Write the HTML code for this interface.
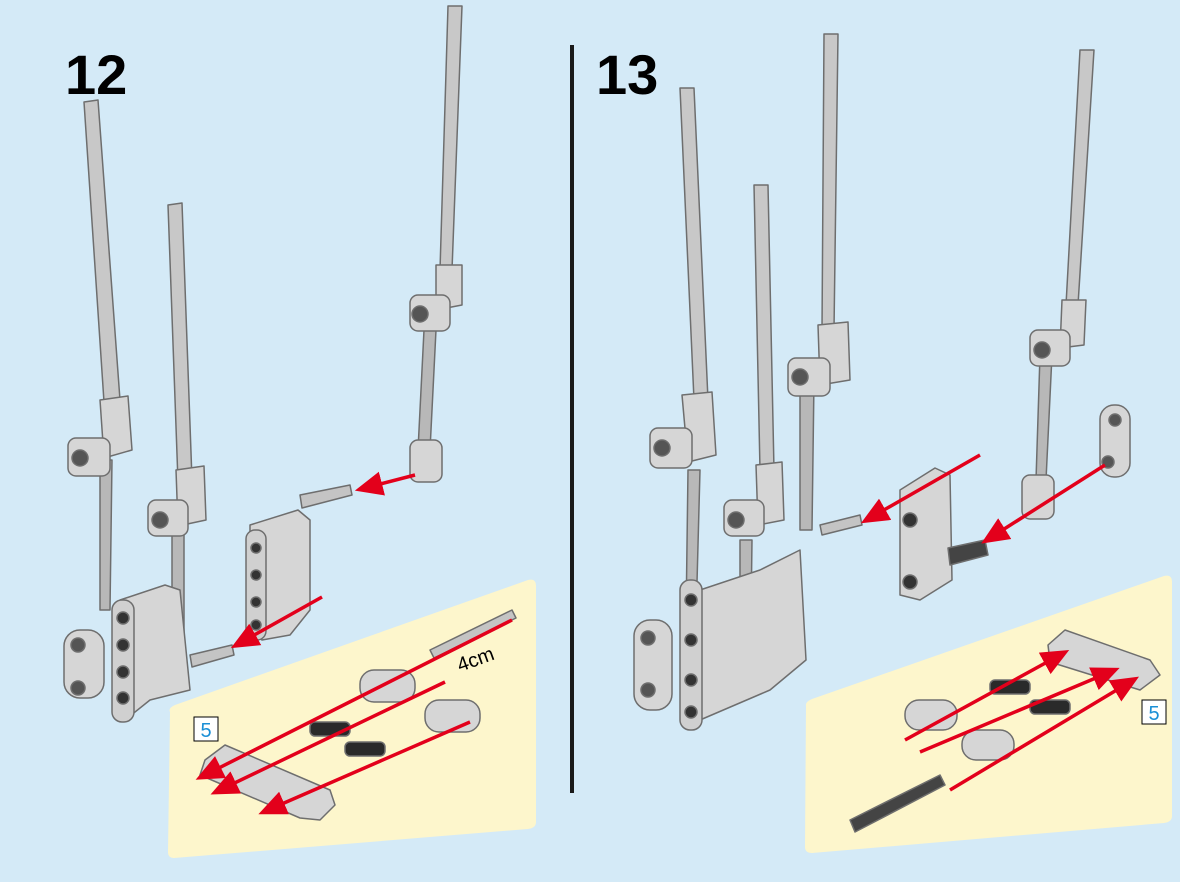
<!DOCTYPE html>
<html><head><meta charset="utf-8"><style>
html,body{margin:0;padding:0;background:#d4eaf7;}
svg{display:block;}
text{font-family:"Liberation Sans",sans-serif;}
</style></head><body>
<svg width="1180" height="882" viewBox="0 0 1180 882" xmlns="http://www.w3.org/2000/svg">
<defs>
<marker id="ah" markerWidth="8" markerHeight="8" refX="5" refY="4" orient="auto" markerUnits="strokeWidth">
<path d="M0,0.5 L8,4 L0,7.5 z" fill="#e3001b"/></marker>
</defs>
<rect width="1180" height="882" fill="#d4eaf7"/>
<path d="M170,712 Q168,708 175,705 L528,580 Q536,578 536,586 L536,822 Q536,828 528,829 L174,858 Q168,858 168,852 Z" fill="#fdf6cc"/>
<path d="M806,706 Q805,702 812,699 L1164,576 Q1172,574 1172,582 L1172,816 Q1172,822 1164,823 L812,853 Q805,853 805,847 Z" fill="#fdf6cc"/>
<rect x="570" y="45" width="4" height="748" fill="#1a1a1a"/>
<text x="65" y="94" font-size="56" font-weight="bold" fill="#000">12</text>
<text x="596" y="94" font-size="56" font-weight="bold" fill="#000">13</text>

<g stroke="#6e6e6e" stroke-width="1.5" stroke-linejoin="round">
<path d="M84,102 L98,100 L120,400 L104,402 Z" fill="#c8c8c8"/>
<path d="M168,205 L182,203 L192,480 L178,482 Z" fill="#c8c8c8"/>
<path d="M448,6 L462,6 L452,270 L440,270 Z" fill="#c8c8c8"/>
<path d="M100,460 L112,460 L110,610 L100,610 Z" fill="#b8b8b8"/>
<path d="M172,520 L184,520 L184,640 L172,640 Z" fill="#b8b8b8"/>
<path d="M424,330 L436,330 L430,450 L418,450 Z" fill="#b8b8b8"/>
<path d="M100,400 L128,396 L132,450 L104,458 Z" fill="#d6d6d6"/>
<rect x="68" y="438" width="42" height="38" rx="8" fill="#d6d6d6"/>
<circle cx="80" cy="458" r="8" fill="#555"/>
<path d="M176,470 L204,466 L206,520 L178,526 Z" fill="#d6d6d6"/>
<rect x="148" y="500" width="40" height="36" rx="8" fill="#d6d6d6"/>
<circle cx="160" cy="520" r="8" fill="#555"/>
<path d="M436,265 L462,265 L462,305 L436,310 Z" fill="#d6d6d6"/>
<rect x="410" y="295" width="40" height="36" rx="8" fill="#d6d6d6"/>
<circle cx="420" cy="314" r="8" fill="#555"/>
<rect x="410" y="440" width="32" height="42" rx="8" fill="#d6d6d6"/>
<path d="M120,600 L165,585 L180,590 L190,690 L150,700 L125,720 L115,700 Z" fill="#d6d6d6"/>
<rect x="112" y="600" width="22" height="122" rx="10" fill="#d0d0d0"/>
<circle cx="123" cy="618" r="6" fill="#333"/><circle cx="123" cy="645" r="6" fill="#333"/><circle cx="123" cy="672" r="6" fill="#333"/><circle cx="123" cy="698" r="6" fill="#333"/>
<rect x="64" y="630" width="40" height="68" rx="16" fill="#d6d6d6"/>
<circle cx="78" cy="645" r="7" fill="#555"/><circle cx="78" cy="688" r="7" fill="#555"/>
<path d="M250,525 L298,510 L310,520 L310,610 L290,635 L262,640 L250,630 Z" fill="#d6d6d6"/>
<rect x="246" y="530" width="20" height="110" rx="9" fill="#d0d0d0"/>
<circle cx="256" cy="548" r="5" fill="#333"/><circle cx="256" cy="575" r="5" fill="#333"/><circle cx="256" cy="602" r="5" fill="#333"/><circle cx="256" cy="625" r="5" fill="#333"/>
<path d="M300,495 L350,485 L352,495 L302,508 Z" fill="#c4c4c4"/>
<path d="M190,655 L232,645 L234,655 L192,667 Z" fill="#c4c4c4"/>
<path d="M430,650 L512,610 L516,618 L434,658 Z" fill="#c4c4c4"/>
<rect x="360" y="670" width="55" height="32" rx="14" fill="#d6d6d6"/>
<rect x="425" y="700" width="55" height="32" rx="14" fill="#d6d6d6"/>
<rect x="310" y="722" width="40" height="14" rx="5" fill="#2a2a2a"/>
<rect x="345" y="742" width="40" height="14" rx="5" fill="#2a2a2a"/>
<path d="M205,760 L225,745 L330,790 L335,805 L320,820 L300,818 L200,775 Z" fill="#d6d6d6"/>

<path d="M680,88 L694,88 L708,400 L694,400 Z" fill="#c8c8c8"/>
<path d="M754,185 L768,185 L774,470 L760,470 Z" fill="#c8c8c8"/>
<path d="M824,34 L838,34 L834,330 L822,330 Z" fill="#c8c8c8"/>
<path d="M1080,50 L1094,50 L1078,305 L1066,305 Z" fill="#c8c8c8"/>
<path d="M688,470 L700,470 L696,620 L686,620 Z" fill="#b8b8b8"/>
<path d="M740,540 L752,540 L750,690 L740,690 Z" fill="#b8b8b8"/>
<path d="M800,380 L814,380 L812,530 L800,530 Z" fill="#b8b8b8"/>
<path d="M1040,355 L1052,355 L1046,480 L1036,480 Z" fill="#b8b8b8"/>
<path d="M682,395 L712,392 L716,455 L688,462 Z" fill="#d6d6d6"/>
<rect x="650" y="428" width="42" height="40" rx="8" fill="#d6d6d6"/><circle cx="662" cy="448" r="8" fill="#555"/>
<path d="M756,465 L782,462 L784,520 L758,525 Z" fill="#d6d6d6"/>
<rect x="724" y="500" width="40" height="36" rx="8" fill="#d6d6d6"/><circle cx="736" cy="520" r="8" fill="#555"/>
<path d="M818,325 L848,322 L850,380 L820,385 Z" fill="#d6d6d6"/>
<rect x="788" y="358" width="42" height="38" rx="8" fill="#d6d6d6"/><circle cx="800" cy="377" r="8" fill="#555"/>
<path d="M1062,300 L1086,300 L1084,345 L1060,348 Z" fill="#d6d6d6"/>
<rect x="1030" y="330" width="40" height="36" rx="8" fill="#d6d6d6"/><circle cx="1042" cy="350" r="8" fill="#555"/>
<rect x="1022" y="475" width="32" height="44" rx="8" fill="#d6d6d6"/>
<path d="M700,590 L760,570 L800,550 L806,660 L770,690 L700,720 Z" fill="#d6d6d6"/>
<rect x="680" y="580" width="22" height="150" rx="10" fill="#d0d0d0"/>
<circle cx="691" cy="600" r="6" fill="#333"/><circle cx="691" cy="640" r="6" fill="#333"/><circle cx="691" cy="680" r="6" fill="#333"/><circle cx="691" cy="712" r="6" fill="#333"/>
<rect x="634" y="620" width="38" height="90" rx="16" fill="#d6d6d6"/>
<circle cx="648" cy="638" r="7" fill="#555"/><circle cx="648" cy="690" r="7" fill="#555"/>
<path d="M900,490 L935,468 L950,475 L952,580 L920,600 L900,595 Z" fill="#d6d6d6"/>
<circle cx="910" cy="520" r="7" fill="#333"/><circle cx="910" cy="582" r="7" fill="#333"/>
<path d="M948,548 L985,540 L988,555 L950,565 Z" fill="#444"/>
<path d="M820,525 L860,515 L862,525 L822,535 Z" fill="#c4c4c4"/>
<rect x="1100" y="405" width="30" height="72" rx="14" fill="#d6d6d6"/>
<circle cx="1115" cy="420" r="6" fill="#555"/><circle cx="1108" cy="462" r="6" fill="#555"/>
<path d="M1048,645 L1065,630 L1150,660 L1160,675 L1140,690 L1050,662 Z" fill="#d6d6d6"/>
<rect x="905" y="700" width="52" height="30" rx="14" fill="#d6d6d6"/>
<rect x="962" y="730" width="52" height="30" rx="14" fill="#d6d6d6"/>
<rect x="990" y="680" width="40" height="14" rx="5" fill="#2a2a2a"/>
<rect x="1030" y="700" width="40" height="14" rx="5" fill="#2a2a2a"/>
<path d="M850,820 L940,775 L945,785 L855,832 Z" fill="#444"/>
</g>

<g stroke="#e3001b" stroke-width="3.5" fill="none" marker-end="url(#ah)">
<line x1="415" y1="475" x2="365" y2="488"/>
<line x1="322" y1="597" x2="240" y2="643"/>
<line x1="512" y1="620" x2="205" y2="775"/>
<line x1="445" y1="682" x2="220" y2="790"/>
<line x1="470" y1="722" x2="268" y2="810"/>
<line x1="980" y1="455" x2="870" y2="518"/>
<line x1="1105" y1="465" x2="990" y2="538"/>
<line x1="905" y1="740" x2="1060" y2="655"/>
<line x1="920" y1="752" x2="1110" y2="672"/>
<line x1="950" y1="790" x2="1130" y2="682"/>
</g>

<text x="460" y="672" font-size="20" fill="#000" transform="rotate(-20 460 672)">4cm</text>
<rect x="194" y="717" width="24" height="24" fill="#fff" stroke="#000" stroke-width="1"/>
<text x="206" y="737" font-size="20" fill="#1a8fd6" text-anchor="middle">5</text>
<rect x="1142" y="700" width="24" height="24" fill="#fff" stroke="#000" stroke-width="1"/>
<text x="1154" y="720" font-size="20" fill="#1a8fd6" text-anchor="middle">5</text>
</svg>
</body></html>
